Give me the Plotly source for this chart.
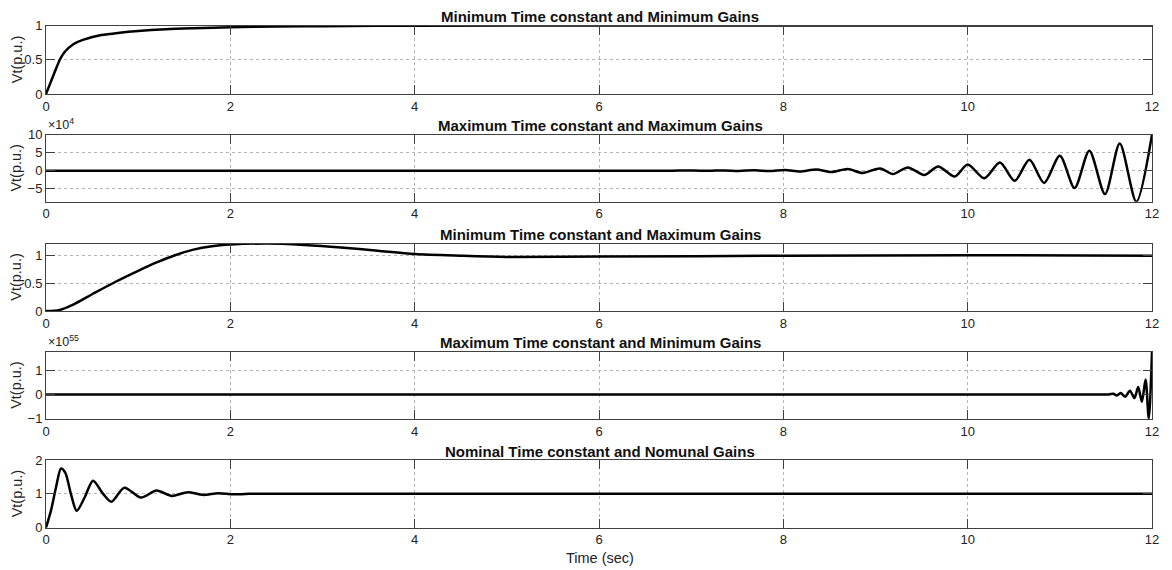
import plotly.graph_objects as go

W, H = 1172, 570
OFF = 8  # page body margin shifts the figure by this many pixels

titles = [
    "Minimum Time constant and Minimum Gains",
    "Maximum Time constant and Maximum Gains",
    "Minimum Time constant and Maximum Gains",
    "Maximum Time constant and Minimum Gains",
    "Nominal Time constant and Nomunal Gains",
]
x_ticks = [0, 2, 4, 6, 8, 10, 12]

# Subplot 1
t1 = [0, 0.05, 0.1, 0.15, 0.2, 0.3, 0.4, 0.6, 0.8, 1.0, 1.3, 1.6, 2.0, 2.5, 3.0, 4.0, 6.0, 12.0]
v1 = [0, 0.17, 0.34, 0.5, 0.61, 0.73, 0.79, 0.86, 0.895, 0.92, 0.945, 0.96, 0.975, 0.985, 0.99, 0.997, 1.0, 1.0]

# Subplot 2 (x 1e4)
t2 = [0, 3.0, 6.0, 6.8, 7.03, 7.19, 7.36, 7.52, 7.69, 7.85, 8.02, 8.18, 8.36, 8.52, 8.70, 8.86, 9.05, 9.19,
      9.35, 9.53, 9.68, 9.86, 10.0, 10.18, 10.35, 10.51, 10.67, 10.83, 11.0, 11.16, 11.32, 11.49,
      11.65, 11.83, 12.0]
v2 = [0, 0, 0, 0, 0.03, -0.04, 0.06, -0.07, 0.1, -0.12, 0.18, -0.25, 0.3, -0.4, 0.45, -0.65, 0.62, -0.95,
      0.9, -1.2, 1.15, -1.6, 1.7, -2.1, 2.25, -2.8, 3.0, -3.4, 4.1, -4.8, 5.5, -6.5,
      7.5, -8.6, 10.0]

# Subplot 3
t3 = [0, 0.15, 0.3, 0.5, 0.75, 1.0, 1.2, 1.4, 1.6, 1.8, 2.0, 2.4, 2.8, 3.2, 3.6, 4.0, 4.5, 5.0, 6.0, 8.0, 10.0, 12.0]
v3 = [0, 0.02, 0.12, 0.3, 0.52, 0.72, 0.87, 1.0, 1.1, 1.16, 1.19, 1.21, 1.185, 1.14, 1.08, 1.02, 0.99, 0.97, 0.975, 0.99, 1.0, 0.99]

# Subplot 4 (x 1e55)
t4 = [0, 4.0, 8.0, 11.3, 11.53, 11.58, 11.62, 11.66, 11.71, 11.76, 11.81, 11.85, 11.89, 11.93, 11.965, 12.0]
v4 = [0, 0, 0, 0, 0, 0.03, -0.04, 0.06, -0.09, 0.16, -0.15, 0.31, -0.3, 0.62, -1.0, 1.78]

# Subplot 5
t5 = [0, 0.055, 0.11, 0.163, 0.21, 0.27, 0.333, 0.42, 0.51, 0.62, 0.71, 0.85, 1.03, 1.2, 1.36, 1.54, 1.7, 1.87, 2.03, 2.2, 3.0, 12.0]
v5 = [0, 0.52, 1.21, 1.75, 1.62, 1.0, 0.5, 0.9, 1.39, 1.0, 0.77, 1.18, 0.89, 1.1, 0.94, 1.05, 0.97, 1.02, 0.985, 1.0, 1.0, 1.0]

series = [(t1, v1), (t2, v2), (t3, v3), (t4, v4), (t5, v5)]
y_ranges = [[0, 1], [-8.6, 10], [0, 1.21], [-1.02, 1.78], [0, 2]]
y_ticks = [[0, 0.5, 1], [-5, 0, 5, 10], [0, 0.5, 1], [-1, 0, 1], [0, 1, 2]]
exponents = [None, "4", None, "55", None]

# target screen-pixel geometry
px_left, px_right = 46, 1152
tops = [25.5, 134.5, 243.5, 351.7, 460]
bots = [94, 201.7, 311, 419, 527.7]

fl, fr = px_left - OFF, px_right - OFF  # figure-pixel plot edges

def yp(p):
    return 1 - (p - OFF) / H

def xp(p):
    return (p - OFF - fl) / (fr - fl)

AX = "#404040"
GRID = "#b4b4b4"
FONT = "Liberation Sans, Arial, sans-serif"

fig = go.Figure()
annotations = []
for i, (t, v) in enumerate(series):
    n = "" if i == 0 else str(i + 1)
    fig.add_trace(go.Scatter(x=t, y=v, mode="lines",
                             line=dict(color="black", width=2.5, shape="spline", smoothing=0.8),
                             xaxis="x" + n, yaxis="y" + n, showlegend=False,
                             cliponaxis=True))
    common = dict(showline=True, linecolor=AX, linewidth=1, mirror="ticks",
                  ticks="inside", ticklen=9, tickcolor=AX, tickwidth=1,
                  showgrid=True, gridcolor=GRID, griddash="dot", gridwidth=1,
                  zeroline=False, automargin=False,
                  tickfont=dict(family=FONT, size=13, color="#222"))
    fig.layout["xaxis" + n] = dict(domain=[0, 1], range=[0, 12], tickvals=x_ticks,
                                   anchor="y" + n, **common)
    fig.layout["yaxis" + n] = dict(domain=[yp(bots[i]), yp(tops[i])], range=y_ranges[i],
                                   tickvals=y_ticks[i], anchor="x" + n, **common)
    annotations.append(dict(text="<b>" + titles[i] + "</b>", xref="paper", yref="paper",
                            x=xp(600), y=yp(tops[i] + 0.5), xanchor="center", yanchor="bottom",
                            borderpad=0,
                            showarrow=False, font=dict(family=FONT, size=15, color="#111")))
    annotations.append(dict(text="Vt(p.u.)", xref="paper", yref="paper", textangle=-90,
                            x=xp(16.5), y=yp((tops[i] + bots[i]) / 2), xanchor="center",
                            yanchor="middle", showarrow=False,
                            font=dict(family=FONT, size=14.5, color="#222")))
    if exponents[i]:
        annotations.append(dict(text="\u00d710<sup>" + exponents[i] + "</sup>", xref="paper",
                                yref="paper", x=xp(46), y=yp(tops[i] - 1), xanchor="left",
                                yanchor="bottom", showarrow=False,
                                font=dict(family=FONT, size=12.5, color="#222")))

annotations.append(dict(text="Time (sec)", xref="paper", yref="paper", x=xp(600),
                        y=yp(558), xanchor="center", yanchor="middle", showarrow=False,
                        font=dict(family=FONT, size=14.5, color="#222")))

fig.update_layout(width=W, height=H,
                  margin=dict(l=fl, r=W - fr, t=0, b=0, autoexpand=False),
                  paper_bgcolor="white", plot_bgcolor="white", annotations=annotations,
                  font=dict(family=FONT))
fig.write_html("out.html")
